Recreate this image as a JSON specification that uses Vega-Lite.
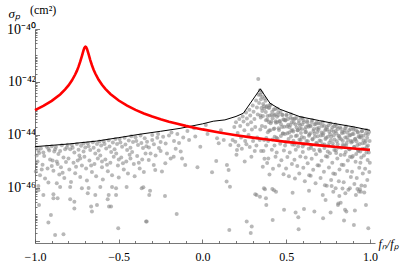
{
"$schema":"https://vega.github.io/schema/vega-lite/v6.json",
"width":340,"height":214,
"autosize":{"type":"none"},
"padding":{"left":35,"top":29,"right":40,"bottom":20},
"background":"white",
"config":{"view":{"stroke":null},"font":"Liberation Serif","axis":{"labelOverlap":false}},
"title":{"text":"(cm²)","anchor":"start","frame":"group","dx":-5,"offset":-22,"baseline":"bottom","fontSize":12,"fontWeight":"normal","font":"Liberation Serif","color":"black"},
"resolve":{"axis":{"x":"independent"}},
"datasets":{
"pts":[
{"x":-0.99,"s":3.4e-45},{"x":-0.965,"s":3.1e-45},{"x":-0.93,"s":3.6e-45},{"x":-0.915,"s":2.6e-45},{"x":-0.975,"s":2.1e-45},{"x":-0.945,"s":1.6e-45},{"x":-0.91,"s":1.2e-45},{"x":-0.985,"s":1.0e-45},{"x":-0.955,"s":7.5e-46},{"x":-0.925,"s":5.5e-46},{"x":-0.995,"s":4.2e-46},{"x":-0.97,"s":3.0e-46},{"x":-0.94,"s":2.3e-46},{"x":-0.92,"s":1.6e-46},{"x":-0.98,"s":1.2e-46},
{"x":-0.9,"s":3.8e-45},{"x":-0.875,"s":3.5e-45},{"x":-0.84,"s":4.1e-45},{"x":-0.82,"s":2.9e-45},{"x":-0.885,"s":2.4e-45},{"x":-0.86,"s":1.9e-45},{"x":-0.83,"s":1.4e-45},{"x":-0.895,"s":1.1e-45},{"x":-0.865,"s":8e-46},{"x":-0.845,"s":6e-46},{"x":-0.815,"s":9.5e-46},{"x":-0.89,"s":4.5e-46},{"x":-0.855,"s":3.2e-46},{"x":-0.825,"s":2.4e-46},{"x":-0.87,"s":1.5e-46},
{"x":-0.805,"s":4.3e-45},{"x":-0.78,"s":4.2e-45},{"x":-0.75,"s":4.6e-45},{"x":-0.725,"s":3.9e-45},{"x":-0.79,"s":2.9e-45},{"x":-0.765,"s":2.2e-45},{"x":-0.735,"s":1.7e-45},{"x":-0.8,"s":1.3e-45},{"x":-0.77,"s":9e-46},{"x":-0.745,"s":1.1e-45},{"x":-0.72,"s":7e-46},{"x":-0.795,"s":5e-46},{"x":-0.76,"s":3.6e-46},{"x":-0.73,"s":2.6e-46},{"x":-0.785,"s":1.7e-46},
{"x":-0.71,"s":4.8e-45},{"x":-0.685,"s":4.9e-45},{"x":-0.655,"s":5.3e-45},{"x":-0.63,"s":4.6e-45},{"x":-0.7,"s":3.4e-45},{"x":-0.67,"s":2.7e-45},{"x":-0.64,"s":2.0e-45},{"x":-0.705,"s":1.5e-45},{"x":-0.675,"s":1.1e-45},{"x":-0.645,"s":8e-46},{"x":-0.625,"s":1.3e-45},{"x":-0.695,"s":5.5e-46},{"x":-0.66,"s":4e-46},{"x":-0.635,"s":2.8e-46},{"x":-0.69,"s":1.9e-46},
{"x":-0.615,"s":5.7e-45},{"x":-0.59,"s":5.8e-45},{"x":-0.56,"s":6.3e-45},{"x":-0.535,"s":5.2e-45},{"x":-0.605,"s":4.0e-45},{"x":-0.575,"s":3.1e-45},{"x":-0.545,"s":2.3e-45},{"x":-0.61,"s":1.7e-45},{"x":-0.58,"s":1.2e-45},{"x":-0.55,"s":9e-46},{"x":-0.53,"s":1.5e-45},{"x":-0.6,"s":6e-46},{"x":-0.565,"s":4.3e-46},{"x":-0.54,"s":3e-46},{"x":-0.595,"s":2.1e-46},
{"x":-0.52,"s":7.0e-45},{"x":-0.495,"s":7.0e-45},{"x":-0.465,"s":7.8e-45},{"x":-0.44,"s":6.2e-45},{"x":-0.51,"s":4.6e-45},{"x":-0.48,"s":3.6e-45},{"x":-0.45,"s":2.7e-45},{"x":-0.515,"s":2.0e-45},{"x":-0.485,"s":1.4e-45},{"x":-0.455,"s":1.0e-45},{"x":-0.435,"s":1.8e-45},{"x":-0.505,"s":7e-46},{"x":-0.47,"s":5e-46},{"x":-0.445,"s":3.5e-46},{"x":-0.5,"s":2.5e-46},
{"x":-0.425,"s":9.0e-45},{"x":-0.4,"s":8.2e-45},{"x":-0.37,"s":9.6e-45},{"x":-0.345,"s":7.5e-45},{"x":-0.415,"s":5.5e-45},{"x":-0.385,"s":4.2e-45},{"x":-0.355,"s":3.2e-45},{"x":-0.42,"s":2.3e-45},{"x":-0.39,"s":1.6e-45},{"x":-0.36,"s":1.2e-45},{"x":-0.34,"s":2.0e-45},{"x":-0.41,"s":8e-46},{"x":-0.375,"s":5.5e-46},{"x":-0.35,"s":4e-46},{"x":-0.405,"s":2.8e-46},
{"x":-0.98,"s":2.6e-45},{"x":-0.95,"s":2.2e-45},{"x":-0.92,"s":3.0e-45},{"x":-0.88,"s":2.9e-45},{"x":-0.85,"s":2.5e-45},{"x":-0.81,"s":3.4e-45},{"x":-0.775,"s":3.3e-45},{"x":-0.74,"s":2.8e-45},{"x":-0.71,"s":2.4e-45},{"x":-0.68,"s":3.8e-45},{"x":-0.65,"s":3.3e-45},{"x":-0.62,"s":2.6e-45},{"x":-0.585,"s":4.6e-45},{"x":-0.555,"s":3.7e-45},{"x":-0.525,"s":2.9e-45},{"x":-0.49,"s":5.2e-45},{"x":-0.46,"s":4.4e-45},{"x":-0.43,"s":3.3e-45},{"x":-0.395,"s":6.0e-45},{"x":-0.365,"s":5.0e-45},{"x":-0.335,"s":3.8e-45},{"x":-0.96,"s":5e-46},{"x":-0.9,"s":6.8e-46},{"x":-0.835,"s":3.8e-46},{"x":-0.755,"s":6.4e-46},{"x":-0.665,"s":7e-46},{"x":-0.57,"s":7.5e-46},{"x":-0.475,"s":8.5e-46},{"x":-0.38,"s":9e-46},{"x":-0.99,"s":1.7e-45},{"x":-0.87,"s":1.0e-45},{"x":-0.73,"s":1.3e-45},{"x":-0.6,"s":1.0e-45},{"x":-0.5,"s":1.2e-45},{"x":-0.43,"s":1.3e-45},
{"x":-0.98,"s":8.3e-47},{"x":-0.95,"s":5.5e-47},{"x":-0.976,"s":2.3e-47},{"x":-0.905,"s":9.5e-48},{"x":-0.92,"s":5e-48},{"x":-0.88,"s":1.7e-48},{"x":-0.83,"s":1.8e-48},{"x":-0.89,"s":4.1e-47},{"x":-0.865,"s":4.1e-47},{"x":-0.89,"s":5.8e-47},{"x":-0.85,"s":1.1e-46},{"x":-0.79,"s":3.8e-47},{"x":-0.765,"s":3.0e-47},{"x":-0.765,"s":1.7e-47},{"x":-0.79,"s":1.1e-46},{"x":-0.72,"s":9.8e-47},{"x":-0.68,"s":1.0e-46},{"x":-0.685,"s":6.3e-47},{"x":-0.64,"s":5.5e-47},{"x":-0.665,"s":2.0e-47},{"x":-0.66,"s":1.3e-47},{"x":-0.63,"s":2.3e-47},{"x":-0.61,"s":1.1e-46},{"x":-0.566,"s":3.8e-47},{"x":-0.56,"s":5.5e-47},{"x":-0.558,"s":2.0e-47},{"x":-0.546,"s":2.0e-47},{"x":-0.516,"s":5.5e-47},{"x":-0.516,"s":9.8e-47},{"x":-0.54,"s":1.1e-46},{"x":-0.453,"s":1.1e-46},{"x":-0.503,"s":3.0e-48},{"x":-0.363,"s":9.8e-47},{"x":-0.337,"s":5.4e-48},
{"x":-0.331,"s":5.6e-45},{"x":-0.32,"s":3.4e-45},{"x":-0.3,"s":6.5e-45},{"x":-0.29,"s":4.5e-45},{"x":-0.27,"s":7.8e-45},{"x":-0.26,"s":3.2e-45},{"x":-0.25,"s":5.5e-45},{"x":-0.235,"s":8.5e-45},{"x":-0.22,"s":4.8e-45},{"x":-0.212,"s":2.0e-45},{"x":-0.2,"s":9.5e-45},{"x":-0.19,"s":1.3e-45},{"x":-0.172,"s":1.5e-45},{"x":-0.17,"s":6.0e-45},{"x":-0.15,"s":1.1e-44},{"x":-0.14,"s":5.0e-45},{"x":-0.122,"s":1.3e-45},{"x":-0.115,"s":8e-45},{"x":-0.103,"s":7.4e-46},{"x":-0.09,"s":1.4e-44},{"x":-0.08,"s":6.5e-45},{"x":-0.321,"s":1.15e-45},{"x":-0.291,"s":7.4e-46},{"x":-0.282,"s":4.8e-46},{"x":-0.242,"s":4.2e-46},{"x":-0.222,"s":8.5e-46},{"x":-0.31,"s":2.0e-45},{"x":-0.28,"s":1.7e-45},{"x":-0.25,"s":2.5e-45},{"x":-0.16,"s":3.0e-45},{"x":-0.13,"s":2.4e-45},{"x":-0.3,"s":1e-44},{"x":-0.265,"s":1.1e-44},{"x":-0.185,"s":1.25e-44},
{"x":-0.043,"s":8.7e-45},{"x":-0.013,"s":3.6e-45},{"x":0.082,"s":1.05e-45},{"x":0.057,"s":3.9e-46},{"x":0.146,"s":7.4e-46},{"x":0.156,"s":4.8e-46},{"x":0.087,"s":7.6e-45},{"x":0.097,"s":4.9e-45},{"x":0.127,"s":6.5e-45},{"x":0.166,"s":4.2e-45},{"x":-0.05,"s":1.8e-44},{"x":0.02,"s":2.4e-44},{"x":0.11,"s":1.5e-44},{"x":0.18,"s":6.5e-45},{"x":0.03,"s":1.1e-44},{"x":-0.03,"s":6e-46},
{"x":0.196,"s":5.6e-45},{"x":0.206,"s":2.7e-45},{"x":0.203,"s":1.8e-45},{"x":0.19,"s":2.0e-44},{"x":0.2,"s":3.0e-44},{"x":0.21,"s":1.2e-44},{"x":0.22,"s":4.0e-44},{"x":0.225,"s":2.2e-44},{"x":0.23,"s":8e-45},{"x":0.24,"s":5.0e-44},{"x":0.245,"s":3.2e-44},{"x":0.25,"s":1.5e-44},{"x":0.255,"s":6e-45},{"x":0.26,"s":7.0e-44},{"x":0.265,"s":4.2e-44},{"x":0.27,"s":2.5e-44},{"x":0.275,"s":1.0e-44},{"x":0.28,"s":9e-44},{"x":0.285,"s":5.5e-44},{"x":0.29,"s":3.0e-44},{"x":0.295,"s":1.6e-44},{"x":0.3,"s":1.3e-43},{"x":0.305,"s":7.5e-44},{"x":0.31,"s":4.0e-44},{"x":0.315,"s":2.0e-44},{"x":0.32,"s":2.0e-43},{"x":0.325,"s":1.1e-43},{"x":0.33,"s":6e-44},{"x":0.335,"s":3.3e-43},{"x":0.338,"s":1.6e-43},{"x":0.333,"s":1.29e-42},{"x":0.215,"s":4e-45},{"x":0.235,"s":3e-45},{"x":0.262,"s":4.5e-45},{"x":0.282,"s":3.5e-45},{"x":0.302,"s":6e-45},{"x":0.312,"s":2.5e-45},{"x":0.292,"s":1.5e-45},{"x":0.252,"s":1.0e-45},{"x":0.327,"s":8e-45},{"x":0.322,"s":4e-45},
{"x":-0.353,"s":1.07e-46},{"x":-0.313,"s":7.8e-47},{"x":-0.318,"s":5.5e-47},{"x":-0.224,"s":5.0e-47},{"x":-0.333,"s":5.4e-48},{"x":-0.154,"s":1.05e-47},{"x":0.144,"s":1.74e-46},{"x":0.164,"s":1.12e-46},{"x":0.16,"s":2.6e-48},{"x":0.264,"s":5.4e-48},{"x":0.294,"s":3.5e-48},{"x":0.288,"s":2.0e-48},{"x":0.323,"s":5.5e-47},{"x":0.315,"s":5.8e-47},
{"x":0.343,"s":4.9e-43},{"x":0.371,"s":2.43e-43},{"x":0.357,"s":2.77e-43},{"x":0.384,"s":1.25e-43},{"x":0.349,"s":2.24e-43},{"x":0.366,"s":1.21e-43},{"x":0.378,"s":7.4e-44},{"x":0.352,"s":1.05e-43},{"x":0.387,"s":3.8e-44},{"x":0.361,"s":5.2e-44},{"x":0.346,"s":5.4e-44},{"x":0.375,"s":2.0e-44},{"x":0.355,"s":2.2e-44},{"x":0.381,"s":7.7e-45},{"x":0.368,"s":6.5e-45},{"x":0.342,"s":6.5e-45},{"x":0.364,"s":2.5e-45},{"x":0.386,"s":8.7e-46},
{"x":0.35,"s":2.5e-45},{"x":0.37,"s":1.26e-45},{"x":0.36,"s":6.3e-46},{"x":0.38,"s":4e-45},{"x":0.345,"s":1.6e-44},{"x":0.39,"s":1.26e-44},
{"x":0.352,"s":4.1e-43},{"x":0.376,"s":1.98e-43},{"x":0.345,"s":3.3e-43},{"x":0.383,"s":1.14e-43},{"x":0.362,"s":1.49e-43},{"x":0.369,"s":1.01e-43},{"x":0.388,"s":5.2e-44},{"x":0.357,"s":8.0e-44},{"x":0.379,"s":3.6e-44},{"x":0.348,"s":4.6e-44},
{"x":0.407,"s":1.39e-43},{"x":0.434,"s":9.5e-44},{"x":0.399,"s":1.07e-43},{"x":0.416,"s":7.6e-44},{"x":0.428,"s":5.6e-44},{"x":0.402,"s":5.5e-44},{"x":0.437,"s":3.3e-44},{"x":0.411,"s":3.2e-44},{"x":0.396,"s":3.1e-44},{"x":0.425,"s":1.7e-44},{"x":0.405,"s":1.5e-44},{"x":0.431,"s":8.6e-45},{"x":0.418,"s":6.8e-45},{"x":0.392,"s":6.0e-45},{"x":0.414,"s":2.8e-45},{"x":0.436,"s":1.5e-45},{"x":0.393,"s":1.3e-45},{"x":0.421,"s":5.3e-46},{"x":0.4,"s":3.2e-46},{"x":0.43,"s":4e-45},
{"x":0.402,"s":1.36e-43},{"x":0.426,"s":9.2e-44},{"x":0.395,"s":1.07e-43},{"x":0.433,"s":5.9e-44},{"x":0.412,"s":5.7e-44},{"x":0.419,"s":4.3e-44},{"x":0.438,"s":2.9e-44},{"x":0.407,"s":2.8e-44},{"x":0.429,"s":1.75e-44},{"x":0.398,"s":1.48e-44},
{"x":0.449,"s":9.8e-44},{"x":0.466,"s":7.3e-44},{"x":0.478,"s":5.7e-44},{"x":0.452,"s":5.6e-44},{"x":0.487,"s":3.7e-44},{"x":0.461,"s":3.4e-44},{"x":0.446,"s":3.0e-44},{"x":0.475,"s":2.0e-44},{"x":0.455,"s":1.8e-44},{"x":0.481,"s":1.14e-44},{"x":0.468,"s":9.1e-45},{"x":0.442,"s":7.9e-45},{"x":0.464,"s":4.7e-45},{"x":0.486,"s":2.6e-45},{"x":0.443,"s":2.2e-45},{"x":0.471,"s":1.12e-45},{"x":0.457,"s":7.0e-46},{"x":0.484,"s":3.3e-46},
{"x":0.528,"s":6.1e-44},{"x":0.502,"s":6.0e-44},{"x":0.537,"s":4.1e-44},{"x":0.511,"s":4.0e-44},{"x":0.496,"s":3.5e-44},{"x":0.525,"s":2.4e-44},{"x":0.505,"s":2.1e-44},{"x":0.531,"s":1.45e-44},{"x":0.518,"s":1.23e-44},{"x":0.492,"s":1.08e-44},{"x":0.514,"s":7.1e-45},{"x":0.536,"s":4.4e-45},{"x":0.493,"s":4.0e-45},{"x":0.521,"s":2.2e-45},{"x":0.507,"s":1.47e-45},{"x":0.534,"s":8.0e-46},{"x":0.499,"s":5.4e-46},{"x":0.516,"s":2.8e-46},
{"x":0.587,"s":4.5e-44},{"x":0.561,"s":4.4e-44},{"x":0.546,"s":3.9e-44},{"x":0.575,"s":2.8e-44},{"x":0.555,"s":2.5e-44},{"x":0.581,"s":1.75e-44},{"x":0.568,"s":1.5e-44},{"x":0.542,"s":1.36e-44},{"x":0.564,"s":9.6e-45},{"x":0.586,"s":6.5e-45},{"x":0.543,"s":6.1e-45},{"x":0.571,"s":3.7e-45},{"x":0.557,"s":2.8e-45},{"x":0.584,"s":1.54e-45},{"x":0.549,"s":1.17e-45},{"x":0.566,"s":6.7e-46},{"x":0.578,"s":3.5e-46},{"x":0.552,"s":2.3e-46},
{"x":0.596,"s":4.4e-44},{"x":0.625,"s":3.4e-44},{"x":0.605,"s":3.0e-44},{"x":0.631,"s":2.3e-44},{"x":0.618,"s":2.0e-44},{"x":0.592,"s":1.7e-44},{"x":0.614,"s":1.26e-44},{"x":0.636,"s":9.4e-45},{"x":0.593,"s":8.4e-45},{"x":0.621,"s":5.9e-45},{"x":0.607,"s":4.5e-45},{"x":0.634,"s":3.0e-45},{"x":0.599,"s":2.3e-45},{"x":0.616,"s":1.4e-45},{"x":0.628,"s":8.5e-46},{"x":0.602,"s":5.8e-46},{"x":0.637,"s":3.0e-46},{"x":0.611,"s":1.8e-46},
{"x":0.655,"s":3.7e-44},{"x":0.681,"s":2.9e-44},{"x":0.668,"s":2.5e-44},{"x":0.642,"s":2.3e-44},{"x":0.664,"s":1.7e-44},{"x":0.686,"s":1.29e-44},{"x":0.643,"s":1.16e-44},{"x":0.671,"s":8.5e-45},{"x":0.657,"s":7.0e-45},{"x":0.684,"s":4.9e-45},{"x":0.649,"s":4.0e-45},{"x":0.666,"s":2.7e-45},{"x":0.678,"s":1.86e-45},{"x":0.652,"s":1.26e-45},{"x":0.687,"s":7.2e-46},{"x":0.661,"s":4.9e-46},{"x":0.646,"s":2.9e-46},{"x":0.675,"s":1.5e-46},
{"x":0.718,"s":3.1e-44},{"x":0.692,"s":2.8e-44},{"x":0.714,"s":2.2e-44},{"x":0.736,"s":1.7e-44},{"x":0.693,"s":1.58e-44},{"x":0.721,"s":1.16e-44},{"x":0.707,"s":9.6e-45},{"x":0.734,"s":7.0e-45},{"x":0.699,"s":6.2e-45},{"x":0.716,"s":4.5e-45},{"x":0.728,"s":3.2e-45},{"x":0.702,"s":2.45e-45},{"x":0.737,"s":1.57e-45},{"x":0.711,"s":1.06e-45},{"x":0.696,"s":7.0e-46},{"x":0.725,"s":4.1e-46},{"x":0.705,"s":2.4e-46},{"x":0.731,"s":1.26e-46},
{"x":0.764,"s":2.7e-44},{"x":0.786,"s":2.16e-44},{"x":0.743,"s":2.0e-44},{"x":0.771,"s":1.56e-44},{"x":0.757,"s":1.32e-44},{"x":0.784,"s":9.7e-45},{"x":0.749,"s":8.5e-45},{"x":0.766,"s":6.4e-45},{"x":0.778,"s":4.9e-45},{"x":0.752,"s":4.0e-45},{"x":0.787,"s":2.7e-45},{"x":0.761,"s":2.06e-45},{"x":0.746,"s":1.52e-45},{"x":0.775,"s":8.9e-46},{"x":0.755,"s":5.9e-46},{"x":0.781,"s":3.5e-46},{"x":0.768,"s":2.0e-46},{"x":0.742,"s":1.22e-46},
{"x":0.793,"s":2.5e-44},{"x":0.821,"s":1.97e-44},{"x":0.807,"s":1.7e-44},{"x":0.834,"s":1.32e-44},{"x":0.799,"s":1.17e-44},{"x":0.816,"s":8.9e-45},{"x":0.828,"s":6.9e-45},{"x":0.802,"s":5.8e-45},{"x":0.837,"s":4.2e-45},{"x":0.811,"s":3.4e-45},{"x":0.796,"s":2.65e-45},{"x":0.825,"s":1.74e-45},{"x":0.805,"s":1.3e-45},{"x":0.831,"s":7.6e-46},{"x":0.818,"s":5.0e-46},{"x":0.792,"s":3.4e-46},{"x":0.814,"s":1.8e-46},{"x":0.836,"s":9.5e-47},
{"x":0.857,"s":2.1e-44},{"x":0.884,"s":1.67e-44},{"x":0.849,"s":1.52e-44},{"x":0.866,"s":1.21e-44},{"x":0.878,"s":9.5e-45},{"x":0.852,"s":8.1e-45},{"x":0.887,"s":5.9e-45},{"x":0.861,"s":5.0e-45},{"x":0.846,"s":4.1e-45},{"x":0.875,"s":2.9e-45},{"x":0.855,"s":2.27e-45},{"x":0.881,"s":1.5e-45},{"x":0.868,"s":1.1e-45},{"x":0.842,"s":7.4e-46},{"x":0.864,"s":4.4e-46},{"x":0.886,"s":2.6e-46},{"x":0.843,"s":1.66e-46},{"x":0.871,"s":8.6e-47},
{"x":0.899,"s":1.88e-44},{"x":0.916,"s":1.53e-44},{"x":0.928,"s":1.24e-44},{"x":0.902,"s":1.1e-44},{"x":0.937,"s":8.2e-45},{"x":0.911,"s":6.9e-45},{"x":0.896,"s":5.7e-45},{"x":0.925,"s":4.2e-45},{"x":0.905,"s":3.5e-45},{"x":0.931,"s":2.5e-45},{"x":0.918,"s":1.92e-45},{"x":0.892,"s":1.46e-45},{"x":0.914,"s":9.7e-46},{"x":0.936,"s":5.8e-46},{"x":0.893,"s":4.1e-46},{"x":0.921,"s":2.4e-46},{"x":0.907,"s":1.4e-46},{"x":0.934,"s":7.3e-47},
{"x":0.978,"s":1.53e-44},{"x":0.952,"s":1.4e-44},{"x":0.987,"s":1.06e-44},{"x":0.961,"s":9.4e-45},{"x":0.946,"s":8.0e-45},{"x":0.975,"s":5.9e-45},{"x":0.955,"s":4.9e-45},{"x":0.981,"s":3.6e-45},{"x":0.968,"s":3.0e-45},{"x":0.942,"s":2.4e-45},{"x":0.964,"s":1.7e-45},{"x":0.986,"s":1.14e-45},{"x":0.943,"s":9.0e-46},{"x":0.971,"s":5.3e-46},{"x":0.957,"s":3.5e-46},{"x":0.984,"s":2.0e-46},{"x":0.949,"s":1.25e-46},{"x":0.966,"s":6.7e-47},
{"x":0.995,"s":1.3e-44},{"x":0.998,"s":6e-45},{"x":0.993,"s":2.2e-45},{"x":0.999,"s":9e-46},{"x":0.996,"s":4e-46},
{"x":0.452,"s":7.03e-44},{"x":0.476,"s":5.84e-44},{"x":0.445,"s":4.87e-44},{"x":0.483,"s":3.95e-44},{"x":0.462,"s":3.21e-44},{"x":0.469,"s":2.55e-44},{"x":0.488,"s":2.03e-44},{"x":0.457,"s":1.54e-44},{"x":0.479,"s":1.14e-44},{"x":0.448,"s":7.2e-45},
{"x":0.502,"s":5.36e-44},{"x":0.526,"s":4.45e-44},{"x":0.495,"s":3.71e-44},{"x":0.533,"s":3.01e-44},{"x":0.512,"s":2.45e-44},{"x":0.519,"s":1.94e-44},{"x":0.538,"s":1.54e-44},{"x":0.507,"s":1.17e-44},{"x":0.529,"s":8.7e-45},{"x":0.498,"s":5.5e-45},
{"x":0.552,"s":4.17e-44},{"x":0.576,"s":3.47e-44},{"x":0.545,"s":2.89e-44},{"x":0.583,"s":2.35e-44},{"x":0.562,"s":1.91e-44},{"x":0.569,"s":1.51e-44},{"x":0.588,"s":1.2e-44},{"x":0.557,"s":9.1e-45},{"x":0.579,"s":6.8e-45},{"x":0.548,"s":4.3e-45},
{"x":0.602,"s":3.61e-44},{"x":0.626,"s":3.0e-44},{"x":0.595,"s":2.5e-44},{"x":0.633,"s":2.03e-44},{"x":0.612,"s":1.65e-44},{"x":0.619,"s":1.31e-44},{"x":0.638,"s":1.04e-44},{"x":0.607,"s":7.9e-45},{"x":0.629,"s":5.8e-45},{"x":0.598,"s":3.7e-45},
{"x":0.652,"s":3.12e-44},{"x":0.676,"s":2.59e-44},{"x":0.645,"s":2.16e-44},{"x":0.683,"s":1.75e-44},{"x":0.662,"s":1.42e-44},{"x":0.669,"s":1.13e-44},{"x":0.688,"s":9.0e-45},{"x":0.657,"s":6.8e-45},{"x":0.679,"s":5.0e-45},{"x":0.648,"s":3.2e-45},
{"x":0.702,"s":2.7e-44},{"x":0.726,"s":2.24e-44},{"x":0.695,"s":1.87e-44},{"x":0.733,"s":1.52e-44},{"x":0.712,"s":1.23e-44},{"x":0.719,"s":9.8e-45},{"x":0.738,"s":7.8e-45},{"x":0.707,"s":5.9e-45},{"x":0.729,"s":4.4e-45},{"x":0.698,"s":2.8e-45},
{"x":0.752,"s":2.34e-44},{"x":0.776,"s":1.95e-44},{"x":0.745,"s":1.62e-44},{"x":0.783,"s":1.32e-44},{"x":0.762,"s":1.07e-44},{"x":0.769,"s":8.5e-45},{"x":0.788,"s":6.8e-45},{"x":0.757,"s":5.1e-45},{"x":0.779,"s":3.8e-45},{"x":0.748,"s":2.4e-45},
{"x":0.802,"s":2.06e-44},{"x":0.826,"s":1.71e-44},{"x":0.795,"s":1.42e-44},{"x":0.833,"s":1.16e-44},{"x":0.812,"s":9.4e-45},{"x":0.819,"s":7.5e-45},{"x":0.838,"s":5.9e-45},{"x":0.807,"s":4.5e-45},{"x":0.829,"s":3.3e-45},{"x":0.798,"s":2.1e-45},
{"x":0.852,"s":1.8e-44},{"x":0.876,"s":1.5e-44},{"x":0.845,"s":1.25e-44},{"x":0.883,"s":1.01e-44},{"x":0.862,"s":8.2e-45},{"x":0.869,"s":6.5e-45},{"x":0.888,"s":5.2e-45},{"x":0.857,"s":4.0e-45},{"x":0.879,"s":2.9e-45},{"x":0.848,"s":1.8e-45},
{"x":0.902,"s":1.59e-44},{"x":0.926,"s":1.32e-44},{"x":0.895,"s":1.1e-44},{"x":0.933,"s":8.9e-45},{"x":0.912,"s":7.2e-45},{"x":0.919,"s":5.8e-45},{"x":0.938,"s":4.6e-45},{"x":0.907,"s":3.5e-45},{"x":0.929,"s":2.6e-45},{"x":0.898,"s":1.6e-45},
{"x":0.952,"s":1.38e-44},{"x":0.976,"s":1.15e-44},{"x":0.945,"s":9.6e-45},{"x":0.983,"s":7.8e-45},{"x":0.962,"s":6.3e-45},{"x":0.969,"s":5.0e-45},{"x":0.988,"s":4.0e-45},{"x":0.957,"s":3.0e-45},{"x":0.979,"s":2.2e-45},{"x":0.948,"s":1.4e-45},
{"x":0.343,"s":4.7e-47},{"x":0.373,"s":8.9e-47},{"x":0.379,"s":4.1e-47},{"x":0.381,"s":2.3e-47},{"x":0.419,"s":6.2e-48},{"x":0.427,"s":8.3e-47},{"x":0.439,"s":7.2e-47},{"x":0.487,"s":1.5e-47},{"x":0.538,"s":6.6e-47},{"x":0.556,"s":1.2e-47},{"x":0.572,"s":7.8e-48},{"x":0.574,"s":2.8e-48},{"x":0.606,"s":1.6e-47},{"x":0.636,"s":7.8e-47},{"x":0.668,"s":1.3e-47},{"x":0.718,"s":5.5e-47},{"x":0.72,"s":7.2e-48},{"x":0.765,"s":1.2e-47},{"x":0.771,"s":1.2e-46},{"x":0.781,"s":7.2e-47},{"x":0.817,"s":5.0e-47},{"x":0.811,"s":2.6e-47},{"x":0.825,"s":2.8e-47},{"x":0.851,"s":1.5e-47},{"x":0.845,"s":5.9e-48},{"x":0.904,"s":4.0e-48},{"x":0.91,"s":1.4e-47},{"x":0.916,"s":5.5e-47},{"x":0.94,"s":8.9e-47},{"x":0.97,"s":1.2e-46},{"x":0.976,"s":2.3e-47},{"x":0.99,"s":3.0e-48},{"x":0.88,"s":9.8e-47},{"x":0.367,"s":9.8e-47},{"x":0.417,"s":9.1e-47},{"x":0.735,"s":3.5e-47},{"x":0.795,"s":9.8e-47},{"x":0.809,"s":2.3e-47},{"x":0.859,"s":1.3e-47},{"x":0.853,"s":6.3e-47},{"x":0.925,"s":9.1e-47},{"x":0.945,"s":7.2e-47}
],
"env":[
{"x":-1,"s":3.63e-45},{"x":-0.8,"s":4.57e-45},{"x":-0.632,"s":5.89e-45},{"x":-0.5,"s":7.94e-45},{"x":-0.373,"s":1.07e-44},{"x":-0.25,"s":1.38e-44},{"x":-0.134,"s":1.78e-44},{"x":0,"s":2.63e-44},{"x":0.064,"s":3.31e-44},{"x":0.134,"s":3.72e-44},{"x":0.2,"s":5.01e-44},{"x":0.244,"s":6.61e-44},{"x":0.345,"s":5.5e-43},{"x":0.403,"s":1.58e-43},{"x":0.463,"s":9.33e-44},{"x":0.582,"s":4.9e-44},{"x":0.7,"s":3.47e-44},{"x":0.781,"s":2.75e-44},{"x":0.9,"s":2.04e-44},{"x":1.0,"s":1.51e-44}
],
"red":[
{"x":-1,"s":8.71e-44},{"x":-0.95,"s":1.247e-43},{"x":-0.9,"s":1.936e-43},{"x":-0.85,"s":3.4e-43},{"x":-0.82,"s":5.25e-43},{"x":-0.8,"s":7.45e-43},{"x":-0.78,"s":1.132e-42},{"x":-0.76,"s":1.914e-42},{"x":-0.75,"s":2.63e-42},{"x":-0.74,"s":3.8e-42},{"x":-0.73,"s":5.83e-42},{"x":-0.72,"s":9.55e-42},{"x":-0.715,"s":1.239e-41},{"x":-0.71,"s":1.585e-41},{"x":-0.705,"s":1.932e-41},{"x":-0.7,"s":2.14e-41},{"x":-0.6985,"s":2.158e-41},{"x":-0.695,"s":2.085e-41},{"x":-0.69,"s":1.803e-41},{"x":-0.685,"s":1.442e-41},{"x":-0.68,"s":1.117e-41},{"x":-0.67,"s":6.73e-42},{"x":-0.66,"s":4.3e-42},{"x":-0.65,"s":2.92e-42},{"x":-0.64,"s":2.094e-42},{"x":-0.62,"s":1.216e-42},{"x":-0.6,"s":7.89e-43},{"x":-0.58,"s":5.51e-43},{"x":-0.55,"s":3.54e-43},{"x":-0.5,"s":1.995e-43},{"x":-0.45,"s":1.276e-43},{"x":-0.4,"s":8.87e-44},{"x":-0.35,"s":6.52e-44},{"x":-0.3,"s":4.99e-44},{"x":-0.25,"s":3.94e-44},{"x":-0.2,"s":3.19e-44},{"x":-0.15,"s":2.64e-44},{"x":-0.1,"s":2.21e-44},{"x":-0.05,"s":1.89e-44},{"x":0,"s":1.626e-44},{"x":0.1,"s":1.245e-44},{"x":0.2,"s":9.84e-45},{"x":0.3,"s":7.96e-45},{"x":0.4,"s":6.58e-45},{"x":0.5,"s":5.52e-45},{"x":0.6,"s":4.71e-45},{"x":0.7,"s":4.06e-45},{"x":0.8,"s":3.53e-45},{"x":0.9,"s":3.1e-45},{"x":1.0,"s":2.75e-45}
]
},
"layer":[
{"data":{"name":"pts"},
 "mark":{"type":"circle","size":16,"color":"#858585","opacity":0.58},
 "encoding":{
  "x":{"field":"x","type":"quantitative","scale":{"domain":[-1,1.03],"nice":false,"zero":false},
   "axis":{"orient":"bottom","values":[-1,-0.5,0,0.5,1],
    "labelExpr":"datum.value==-1 ? '−1.0' : datum.value==-0.5 ? '−0.5' : datum.value==0 ? '0.0' : datum.value==0.5 ? '0.5' : '1.0'",
    "tickSize":-4,
    "domainColor":"#555","tickColor":"#555","tickWidth":0.8,"domainWidth":0.8,
    "labelFont":"Liberation Serif","labelFontSize":12,"labelColor":"black","labelPadding":12,"labelOverlap":false,"labelFlush":false,
    "grid":false,
    "title":"fₙ/fₚ","titleFont":"Liberation Serif","titleFontStyle":"italic","titleFontWeight":"normal","titleFontSize":12,"titleColor":"black",
    "titleAngle":0,"titleX":343,"titleY":0,"titleAlign":"left","titleBaseline":"middle"}},
  "y":{"field":"s","type":"quantitative","scale":{"type":"log","domain":[8.4e-49,1e-40],"nice":false},
   "axis":{"values":[1e-48,2e-48,3e-48,4e-48,5e-48,6e-48,7e-48,8e-48,9e-48,1e-47,2e-47,3e-47,4e-47,5e-47,6e-47,7e-47,8e-47,9e-47,1e-46,2e-46,3e-46,4e-46,5e-46,6e-46,7e-46,8e-46,9e-46,1e-45,2e-45,3e-45,4e-45,5e-45,6e-45,7e-45,8e-45,9e-45,1e-44,2e-44,3e-44,4e-44,5e-44,6e-44,7e-44,8e-44,9e-44,1e-43,2e-43,3e-43,4e-43,5e-43,6e-43,7e-43,8e-43,9e-43,1e-42,2e-42,3e-42,4e-42,5e-42,6e-42,7e-42,8e-42,9e-42,1e-41,2e-41,3e-41,4e-41,5e-41,6e-41,7e-41,8e-41,9e-41,1e-40],
    "labelExpr":"(abs(log(datum.value)/LN10-round(log(datum.value)/LN10))<0.01 && round(log(datum.value)/LN10)%2==0 && datum.value>2e-48) ? (round(log(datum.value)/LN10)==-40 ? '10⁻⁴⁰' : round(log(datum.value)/LN10)==-42 ? '10⁻⁴²' : round(log(datum.value)/LN10)==-44 ? '10⁻⁴⁴' : '10⁻⁴⁶') : ''",
    "tickSize":{"condition":{"test":"abs(log(datum.value)/LN10-round(log(datum.value)/LN10))<0.01 && round(log(datum.value)/LN10)%2==0","value":-4.5},"value":-2},
    "domainColor":"#555","tickColor":"#555","tickWidth":0.8,"domainWidth":0.8,
    "labelFont":"Liberation Serif","labelFontSize":14,"labelColor":"black","labelPadding":4,"labelOverlap":false,"labelFlush":false,
    "grid":false,
    "title":"σₚ","titleFont":"Liberation Serif","titleFontStyle":"italic","titleFontWeight":"normal","titleFontSize":13,"titleColor":"black",
    "titleAngle":0,"titleX":-27,"titleY":-12,"titleAlign":"left","titleBaseline":"alphabetic"}}
 }},
{"data":{"name":"env"},"mark":{"type":"line","color":"black","strokeWidth":1},
 "encoding":{"x":{"field":"x","type":"quantitative",
   "axis":{"orient":"bottom","values":[-0.9,-0.8,-0.7,-0.6,-0.4,-0.3,-0.2,-0.1,0.1,0.2,0.3,0.4,0.6,0.7,0.8,0.9],"labels":false,"domain":false,"title":null,"grid":false,"tickSize":-2.5,"tickColor":"#555","tickWidth":0.8}},
  "y":{"field":"s","type":"quantitative"}}},
{"data":{"name":"red"},"mark":{"type":"line","color":"#ff0000","strokeWidth":2.6},
 "encoding":{"x":{"field":"x","type":"quantitative","axis":null},"y":{"field":"s","type":"quantitative"}}}
]
}
